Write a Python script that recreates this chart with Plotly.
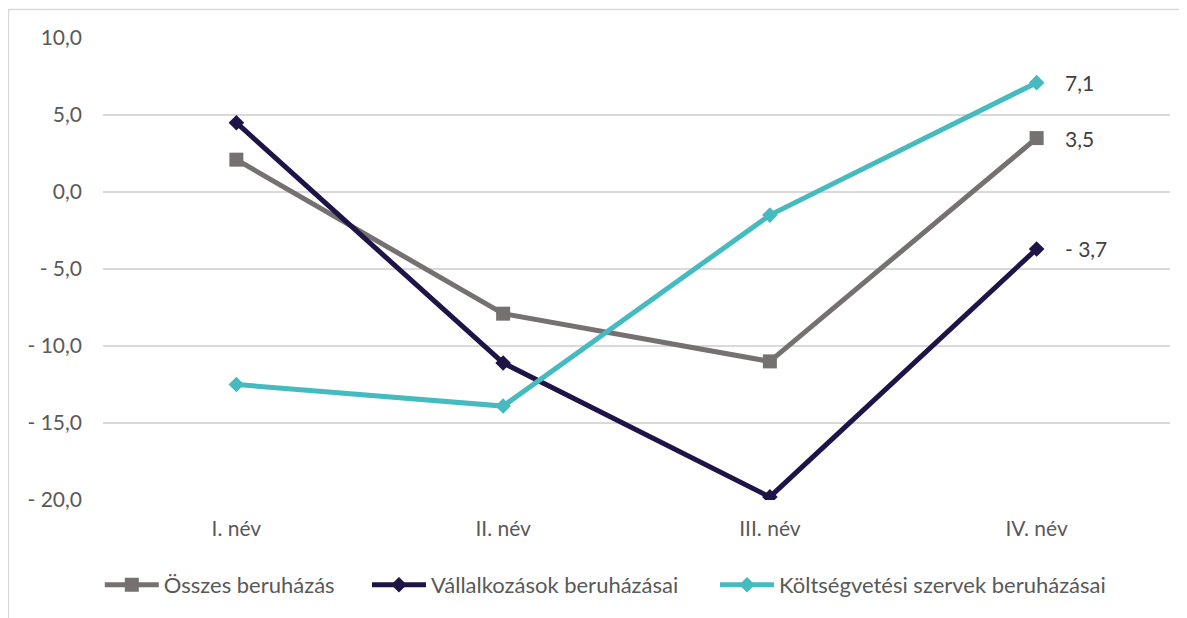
import plotly.graph_objects as go

categories = ["I. név", "II. név", "III. név", "IV. név"]
osszes = [2.1, -7.9, -11.0, 3.5]
vallalkozasok = [4.5, -11.1, -19.8, -3.7]
koltsegvetesi = [-12.5, -13.9, -1.5, 7.1]
series_names = ["Összes beruházás", "Vállalkozások beruházásai", "Költségvetési szervek beruházásai"]
y_ticks = [10, 5, 0, -5, -10, -15, -20]


def fmt(v):
    s = f"{abs(v):.1f}".replace(".", ",")
    return ("- " + s) if v < 0 else s


FONT = "Lato"
GRAY_TXT = "#595959"
FS = 21

fig = go.Figure()
styles = [
    (osszes, "#767171", "square", 14, "legend"),
    (vallalkozasok, "#1E1447", "diamond", 12, "legend2"),
    (koltsegvetesi, "#45BBBF", "diamond", 12, "legend3"),
]
for (vals, color, sym, sz, lg), name in zip(styles, series_names):
    fig.add_trace(go.Scatter(
        x=categories, y=vals, name=name, mode="lines+markers",
        line=dict(color=color, width=5),
        marker=dict(symbol=sym, size=sz, color=color),
        legend=lg,
    ))
    fig.add_annotation(
        x=categories[-1], y=vals[-1], text=fmt(vals[-1]),
        xanchor="left", yanchor="middle", xshift=26, showarrow=False,
        font=dict(family=FONT, size=FS, color="#404040"),
    )

# outer chart-area frame (partly cut off, as in the original)
fig.add_shape(type="rect", xref="paper", yref="paper",
              x0=-0.0886, x1=1.2, y0=-0.5, y1=1.0617,
              line=dict(color="#D9D9D9", width=1.5), layer="below")


def leg(x):
    return dict(orientation="h", x=x, xanchor="left", y=-0.184, yanchor="middle",
                font=dict(family=FONT, size=22, color=GRAY_TXT), itemwidth=54,
                bgcolor="rgba(0,0,0,0)")


fig.update_layout(
    width=1187, height=618,
    margin=dict(l=95, r=25, t=30, b=126),
    paper_bgcolor="white", plot_bgcolor="white",
    font=dict(family=FONT, size=FS, color=GRAY_TXT),
    showlegend=True,
    legend=leg(-0.003), legend2=leg(0.2474), legend3=leg(0.5736),
    xaxis=dict(range=[-0.5, 3.5], showgrid=False, showline=False, zeroline=False,
               ticks="", ticklabelstandoff=14, tickfont=dict(size=FS, color=GRAY_TXT)),
    yaxis=dict(range=[-20, 10], tickvals=y_ticks, ticktext=[fmt(v) for v in y_ticks],
               showgrid=True, gridcolor="#D9D9D9", gridwidth=1.5, zeroline=False,
               showline=False, ticks="", ticklabelstandoff=20,
               tickfont=dict(size=FS, color=GRAY_TXT)),
)

fig.write_html("out.html")
